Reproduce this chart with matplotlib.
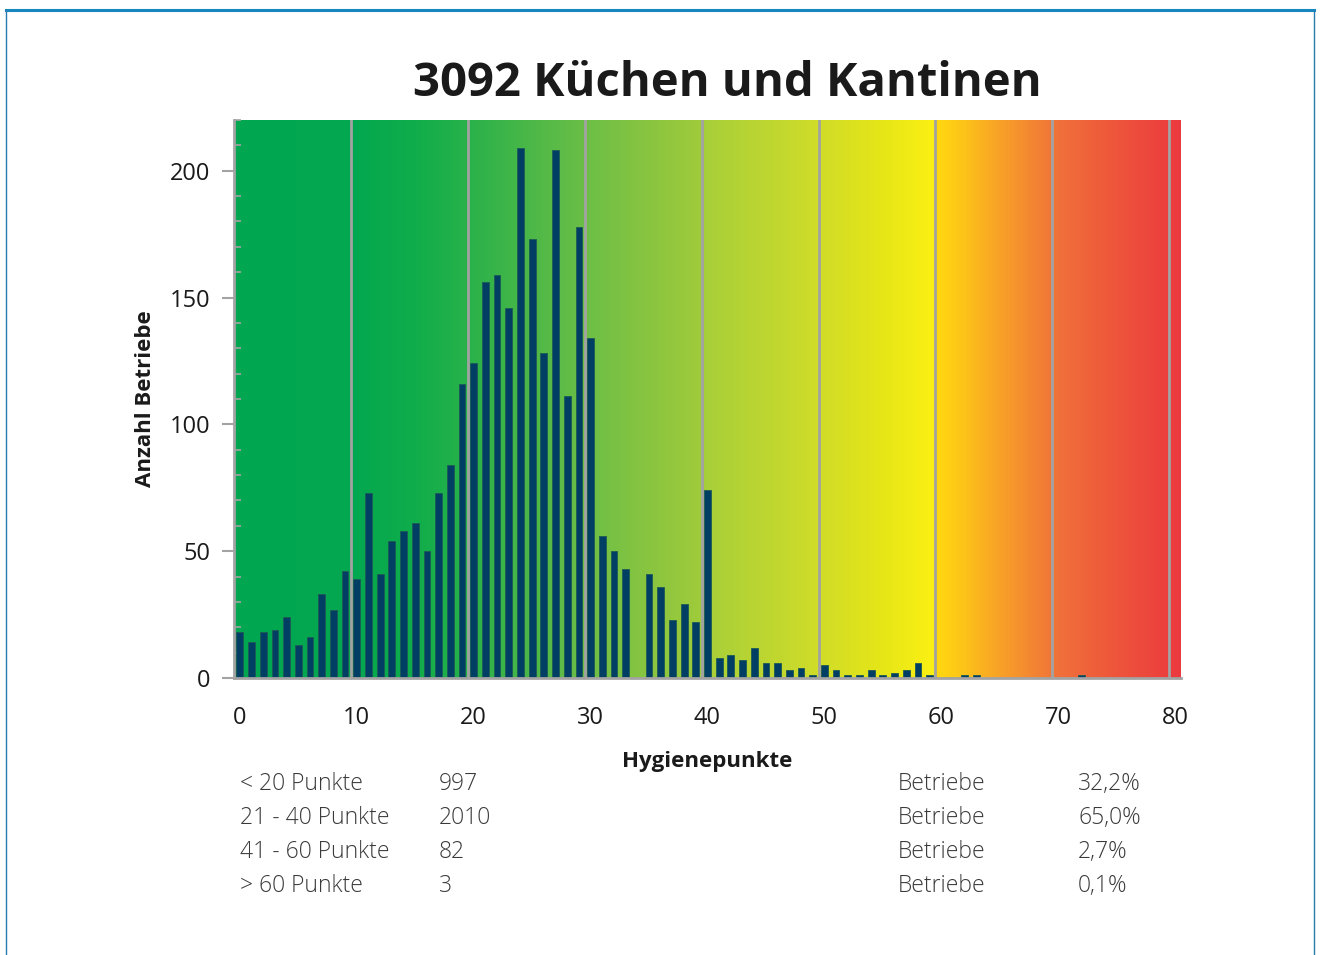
import matplotlib
matplotlib.use("Agg")
import matplotlib.pyplot as plt
import numpy as np
from matplotlib.colors import LinearSegmentedColormap, to_rgb
from matplotlib.lines import Line2D

# ---------------- data ----------------
points = list(range(81))
counts = [18, 14, 18, 19, 24, 13, 16, 33, 27, 42,
          39, 73, 41, 54, 58, 61, 50, 73, 84, 116,
          124, 156, 159, 146, 209, 173, 128, 208, 111, 178,
          134, 56, 50, 43, 0, 41, 36, 23, 29, 22,
          74, 8, 9, 7, 12, 6, 6, 3, 4, 1,
          5, 3, 1, 1, 3, 1, 2, 3, 6, 1,
          0, 0, 1, 1, 0, 0, 0, 0, 0, 0,
          0, 0, 1, 0, 0, 0, 0, 0, 0, 0, 0]
xticks = [0, 10, 20, 30, 40, 50, 60, 70, 80]
yticks = [0, 50, 100, 150, 200]

group_labels = ["< 20 Punkte", "21 - 40 Punkte", "41 - 60 Punkte", "> 60 Punkte"]
group_counts = ["997", "2010", "82", "3"]
group_unit = ["Betriebe", "Betriebe", "Betriebe", "Betriebe"]
group_pcts = ["32,2%", "65,0%", "2,7%", "0,1%"]

title = "3092 Küchen und Kantinen"

# background gradient stops (x position, colour)
grad_x = [-0.5, 10, 15, 20, 25, 30, 35, 39.5, 40, 45, 50, 55, 59.4, 59.6, 62, 65, 70, 75, 80.5]
grad_c = ["#00A651", "#04A84F", "#10AD4B", "#2BB24A", "#4DB848", "#6EBF46", "#89C540",
          "#A0CB3B", "#A8CF39", "#BDD631", "#D2DD27", "#E6E617", "#FBF014", "#FFD90F",
          "#FDC319", "#F8A227", "#F0713A", "#EE553B", "#EB3A3F"]

# ---------------- figure ----------------
plt.rcParams['font.family'] = ['Open Sans', 'DejaVu Sans']
fig = plt.figure(figsize=(13.2, 9.55), dpi=100)
W, H = 1320, 955
ax = fig.add_axes([234 / W, 1 - 678 / H, (1181 - 234) / W, (678 - 120) / H])

xmin, xmax = -0.5, 80.5
ymin, ymax = 0, 220
pos = [(g - xmin) / (xmax - xmin) for g in grad_x]
cmap = LinearSegmentedColormap.from_list("bg", list(zip(pos, [to_rgb(c) for c in grad_c])), N=1024)
grad = np.linspace(0, 1, 1200).reshape(1, -1)
ax.imshow(grad, cmap=cmap, extent=[xmin, xmax, ymin, ymax], aspect='auto', zorder=0,
          interpolation='bilinear')

# vertical gridlines between categories
for g in np.arange(9.5, 80, 10):
    ax.axvline(g, color='#A3A3A3', lw=2, zorder=1)

ax.bar(points, counts, width=0.58, color='#003F63', edgecolor='#1E5A55', linewidth=0.6, zorder=2)

ax.set_xlim(xmin, xmax)
ax.set_ylim(ymin, ymax)

for s in ['top', 'right']:
    ax.spines[s].set_visible(False)
for s in ['left', 'bottom']:
    ax.spines[s].set_color('#A3A3A3')
    ax.spines[s].set_linewidth(2)

ax.set_xticks(xticks)
ax.set_xticklabels([str(t) for t in xticks], fontsize=17, color='#1a1a1a')
ax.tick_params(axis='x', length=0, pad=20)
ax.set_yticks(yticks)
ax.set_yticklabels([str(t) for t in yticks], fontsize=17, color='#1a1a1a')
ax.tick_params(axis='y', which='major', direction='out', length=9, width=1.5, color='#A3A3A3', pad=8)
ax.set_yticks(np.arange(0, 221, 10), minor=True)
ax.tick_params(axis='y', which='minor', direction='in', length=5, width=1.2, color='#A3A3A3')
ax.tick_params(axis='x', which='minor', length=0)

ax.set_xlabel("Hygienepunkte", fontsize=16, fontweight='bold', color='#1a1a1a', labelpad=15)
ax.set_ylabel("Anzahl Betriebe", fontsize=16, fontweight='bold', color='#1a1a1a', labelpad=10)

fig.text(727 / W, 1 - 84 / H, title, fontsize=34, fontweight='bold', color='#1a1a1a',
         ha='center', va='center')

# summary table
rows_y = [784, 818, 852, 886]
for i, yy in enumerate(rows_y):
    fy = 1 - yy / H
    kw = dict(fontsize=16.5, color='#3a3a3a', va='center', fontweight='light')
    fig.text(240 / W, fy, group_labels[i], ha='left', **kw)
    fig.text(439 / W, fy, group_counts[i], ha='left', **kw)
    fig.text(898 / W, fy, group_unit[i], ha='left', **kw)
    fig.text(1078 / W, fy, group_pcts[i], ha='left', **kw)

# outer frame
fig.add_artist(Line2D([6 / W, 1314 / W], [1 - 10 / H, 1 - 10 / H], color='#1787BF', lw=2.2))
fig.add_artist(Line2D([6 / W, 6 / W], [1 - 10 / H, 0], color='#2A7CAF', lw=1))
fig.add_artist(Line2D([1314 / W, 1314 / W], [1 - 10 / H, 0], color='#2A7CAF', lw=1))

fig.savefig("out.png", dpi=100)
